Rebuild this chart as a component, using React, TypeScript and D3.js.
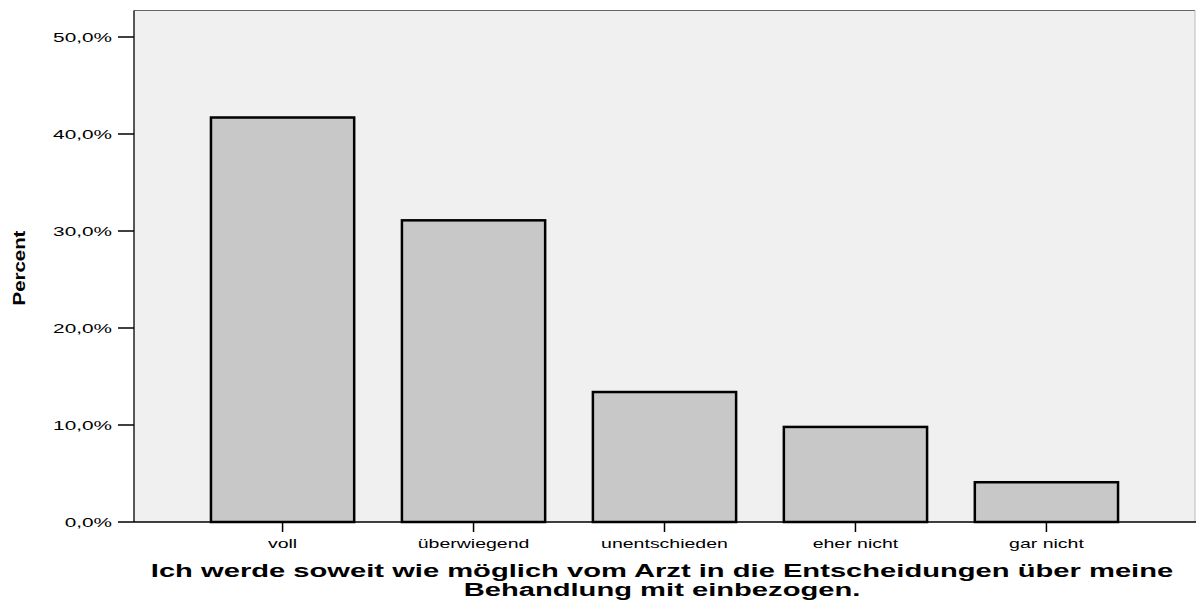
import React from 'react';
import * as d3 from 'd3';

const categories = ['voll', 'überwiegend', 'unentschieden', 'eher nicht', 'gar nicht'];
const percents = [41.7, 31.1, 13.4, 9.8, 4.1];
const yTicks = [0, 10, 20, 30, 40, 50];
const xTitle = [
  'Ich werde soweit wie möglich vom Arzt in die Entscheidungen über meine',
  'Behandlung mit einbezogen.',
];

const W = 1196;
const H = 605;
const m = { left: 134, right: 1, top: 10.5, bottom: 83 };

// Text ist im Original horizontal gestreckt
function Label(props: {
  x: number;
  y: number;
  sx: number;
  anchor: 'start' | 'middle' | 'end';
  size: number;
  bold?: boolean;
  children: React.ReactNode;
}) {
  return (
    <text
      transform={`translate(${props.x},${props.y}) scale(${props.sx},1)`}
      textAnchor={props.anchor}
      fontSize={props.size}
      fontWeight={props.bold ? 'bold' : 'normal'}
      fill="#000"
    >
      {props.children}
    </text>
  );
}

export default function App() {
  const x = d3
    .scaleBand<string>()
    .domain(categories)
    .range([m.left, W - m.right])
    .paddingInner(0.25)
    .paddingOuter(0.403);

  // 0% bei y=522, 50% bei y=37
  const y = d3.scaleLinear().domain([0, 50]).range([522, 37]);
  const fmt = (v: number) => v.toFixed(1).replace('.', ',') + '%';
  const font = 'Liberation Sans, Arial, sans-serif';

  return (
    <svg
      width={W}
      height={H}
      style={{ position: 'absolute', left: 0, top: 0, background: '#fff' }}
      fontFamily={font}
    >
      {/* Plotfläche */}
      <rect x={m.left} y={m.top} width={W - m.right - m.left} height={y(0) - m.top} fill="#f0f0f0" />
      <line x1={m.left} x2={W - m.right} y1={m.top} y2={m.top} stroke="#666" strokeWidth={1} />
      <line x1={W - 1} x2={W - 1} y1={m.top} y2={y(0)} stroke="#bbb" strokeWidth={1} />

      {/* Balken */}
      {categories.map((c, i) => (
        <rect
          key={c}
          x={x(c)!}
          y={y(percents[i])}
          width={x.bandwidth()}
          height={y(0) - y(percents[i])}
          fill="#c8c8c8"
          stroke="#000"
          strokeWidth={2.5}
        />
      ))}

      {/* Y-Achse */}
      <line x1={m.left} x2={m.left} y1={m.top} y2={y(0)} stroke="#000" strokeWidth={1.3} />
      {yTicks.map((t) => (
        <g key={t}>
          <line x1={118} x2={m.left} y1={y(t)} y2={y(t)} stroke="#000" strokeWidth={1.5} />
          <Label x={112} y={y(t) + 4.7} sx={1.6} anchor="end" size={13}>
            {fmt(t)}
          </Label>
        </g>
      ))}
      <text
        transform={`translate(25,268) rotate(-90) scale(1.2,1)`}
        textAnchor="middle"
        fontFamily="Liberation Sans Narrow, Arial Narrow, Liberation Sans, sans-serif"
        fontWeight="bold"
        fontSize={17}
        fill="#000"
      >
        Percent
      </text>

      {/* X-Achse */}
      <line x1={m.left} x2={W} y1={y(0)} y2={y(0)} stroke="#000" strokeWidth={1.5} />
      {categories.map((c) => {
        const cx = x(c)! + x.bandwidth() / 2;
        return (
          <g key={c}>
            <line x1={cx} x2={cx} y1={y(0)} y2={y(0) + 10} stroke="#000" strokeWidth={1.5} />
            <Label x={cx} y={548} sx={1.5} anchor="middle" size={13}>
              {c}
            </Label>
          </g>
        );
      })}
      {xTitle.map((line, i) => (
        <Label key={i} x={662} y={577 + i * 19} sx={1.62} anchor="middle" size={18} bold>
          {line}
        </Label>
      ))}
    </svg>
  );
}
